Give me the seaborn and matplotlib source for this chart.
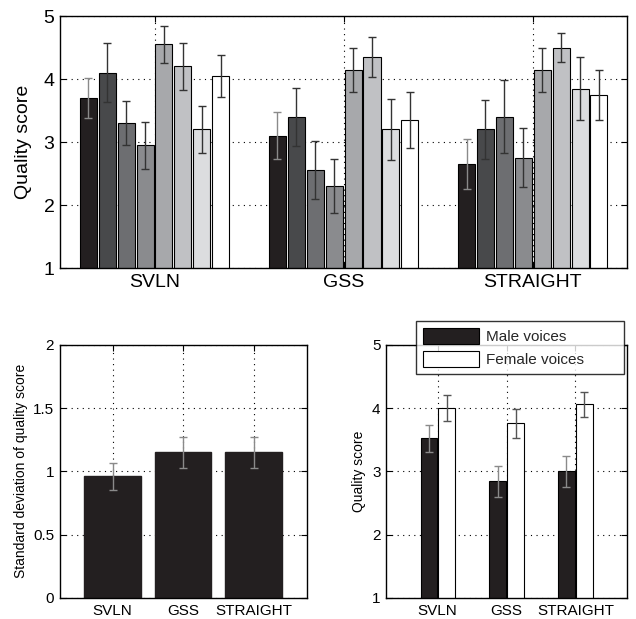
import numpy as np
import pandas as pd
import matplotlib
matplotlib.use("Agg")
import matplotlib.pyplot as plt
import seaborn as sns

sns.set_theme(style="white")
plt.rcParams['font.family'] = ['Liberation Sans', 'DejaVu Sans']

# ---------------- data ----------------
methods = ["SVLN", "GSS", "STRAIGHT"]
conditions = ["C1", "C2", "C3", "C4", "C5", "C6", "C7", "C8"]
cond_colors = ["#231f20", "#48494b", "#6d6e71", "#8a8b8e",
               "#a7a8ab", "#c0c1c4", "#dcdddf", "#ffffff"]
cond_err_colors = ["#8a8a8a", "#333333", "#333333", "#333333",
                   "#333333", "#333333", "#333333", "#333333"]
scores_svln = [3.70, 4.10, 3.30, 2.95, 4.55, 4.20, 3.20, 4.05]
scores_gss = [3.10, 3.40, 2.55, 2.30, 4.15, 4.35, 3.20, 3.35]
scores_straight = [2.65, 3.20, 3.40, 2.75, 4.15, 4.50, 3.85, 3.75]
err_svln = [0.32, 0.47, 0.35, 0.37, 0.30, 0.37, 0.37, 0.33]
err_gss = [0.37, 0.46, 0.46, 0.43, 0.35, 0.32, 0.48, 0.45]
err_straight = [0.40, 0.47, 0.58, 0.47, 0.35, 0.23, 0.50, 0.40]

sd_values = [0.96, 1.15, 1.15]
sd_err = [0.105, 0.125, 0.125]

genders = ["Male voices", "Female voices"]
gender_colors = ["#231f20", "#ffffff"]
male_scores = [3.52, 2.84, 3.00]
female_scores = [4.00, 3.76, 4.06]
male_err = [0.21, 0.24, 0.25]
female_err = [0.20, 0.23, 0.20]

# ---------------- figure ----------------
fig = plt.figure(figsize=(6.36, 6.19), dpi=100)
ax1 = fig.add_axes([0.0943, 0.567, 0.892, 0.407])
ax2 = fig.add_axes([0.094, 0.034, 0.388, 0.409])
ax3 = fig.add_axes([0.607, 0.034, 0.379, 0.409])


def style_axes(ax, fs):
    ax.set_axisbelow(True)
    ax.grid(True, linestyle=(0, (1, 4)), color="black", linewidth=0.8)
    for s in ax.spines.values():
        s.set_visible(True)
        s.set_color("black")
        s.set_linewidth(1.0)
    ax.tick_params(direction="in", length=4, width=0.8, top=True, right=True,
                   bottom=True, left=True, labelsize=fs, colors="black",
                   pad=4)


def add_errors(ax, values_by_hue, errs_by_hue, colors, n_x):
    # patches from seaborn are ordered hue-major
    patches = [p for p in ax.patches if p.get_width() > 0][: len(values_by_hue) * n_x]
    k = 0
    for h, (vals, errs) in enumerate(zip(values_by_hue, errs_by_hue)):
        for i in range(n_x):
            p = patches[k]
            k += 1
            xc = p.get_x() + p.get_width() / 2
            ax.errorbar(xc, vals[i], yerr=errs[i], fmt="none",
                        ecolor=colors[h], elinewidth=1.0, capsize=3,
                        capthick=1.0, zorder=5)


# ---- top chart ----
rows = []
for m, sc in zip(methods, [scores_svln, scores_gss, scores_straight]):
    for c, v in zip(conditions, sc):
        rows.append({"method": m, "cond": c, "score": v})
df1 = pd.DataFrame(rows)
sns.barplot(data=df1, x="method", y="score", hue="cond", order=methods,
            hue_order=conditions, palette=cond_colors, errorbar=None,
            width=0.8, gap=0.1, edgecolor="black", linewidth=0.8,
            saturation=1, legend=False, ax=ax1, bottom=0)
vals_by_cond = [[scores_svln[j], scores_gss[j], scores_straight[j]] for j in range(8)]
errs_by_cond = [[err_svln[j], err_gss[j], err_straight[j]] for j in range(8)]
add_errors(ax1, vals_by_cond, errs_by_cond, cond_err_colors, 3)
ax1.set_ylim(1, 5)
ax1.set_yticks([1, 2, 3, 4, 5])
ax1.set_xlim(-0.5, 2.5)
ax1.set_xlabel("")
ax1.set_ylabel("Quality score", fontsize=14, color="black", labelpad=8)
style_axes(ax1, 14)

# ---- bottom-left chart ----
df2 = pd.DataFrame({"method": methods, "sd": sd_values})
sns.barplot(data=df2, x="method", y="sd", order=methods, color="#231f20",
            errorbar=None, width=0.8, edgecolor="#231f20", saturation=1,
            ax=ax2)
ax2.errorbar(np.arange(3), sd_values, yerr=sd_err, fmt="none",
             ecolor="#8a8a8a", elinewidth=1.0, capsize=3, capthick=1.0,
             zorder=5)
ax2.set_ylim(0, 2)
ax2.set_yticks([0, 0.5, 1, 1.5, 2])
ax2.set_yticklabels(["0", "0.5", "1", "1.5", "2"])
ax2.set_xlim(-0.75, 2.75)
ax2.set_xlabel("")
ax2.set_ylabel("Standard deviation of quality score", fontsize=10,
               color="black")
style_axes(ax2, 11)

# ---- bottom-right chart ----
rows = []
for m, ms, fs_ in zip(methods, male_scores, female_scores):
    rows.append({"method": m, "gender": genders[0], "score": ms})
    rows.append({"method": m, "gender": genders[1], "score": fs_})
df3 = pd.DataFrame(rows)
sns.barplot(data=df3, x="method", y="score", hue="gender", order=methods,
            hue_order=genders, palette=gender_colors, errorbar=None,
            width=0.52, gap=0.08, edgecolor="black", linewidth=0.8,
            saturation=1, ax=ax3)
add_errors(ax3, [male_scores, female_scores], [male_err, female_err],
           ["#8a8a8a", "#555555"], 3)
ax3.set_ylim(1, 5)
ax3.set_yticks([1, 2, 3, 4, 5])
ax3.set_xlim(-0.75, 2.75)
ax3.set_xlabel("")
ax3.set_ylabel("Quality score", fontsize=10, color="black")
style_axes(ax3, 11)
leg = ax3.legend(loc="upper left", bbox_to_anchor=(0.124, 1.093, 0.863, 0.0),
                 mode="expand", fontsize=11, frameon=True, fancybox=False,
                 edgecolor="black", handlelength=3.7, handleheight=1.2,
                 borderpad=0.45, labelspacing=0.45, handletextpad=0.45,
                 borderaxespad=0)
leg.get_frame().set_linewidth(1.0)
for h in leg.legend_handles:
    h.set_edgecolor("black")

fig.savefig("out.png", dpi=100)
